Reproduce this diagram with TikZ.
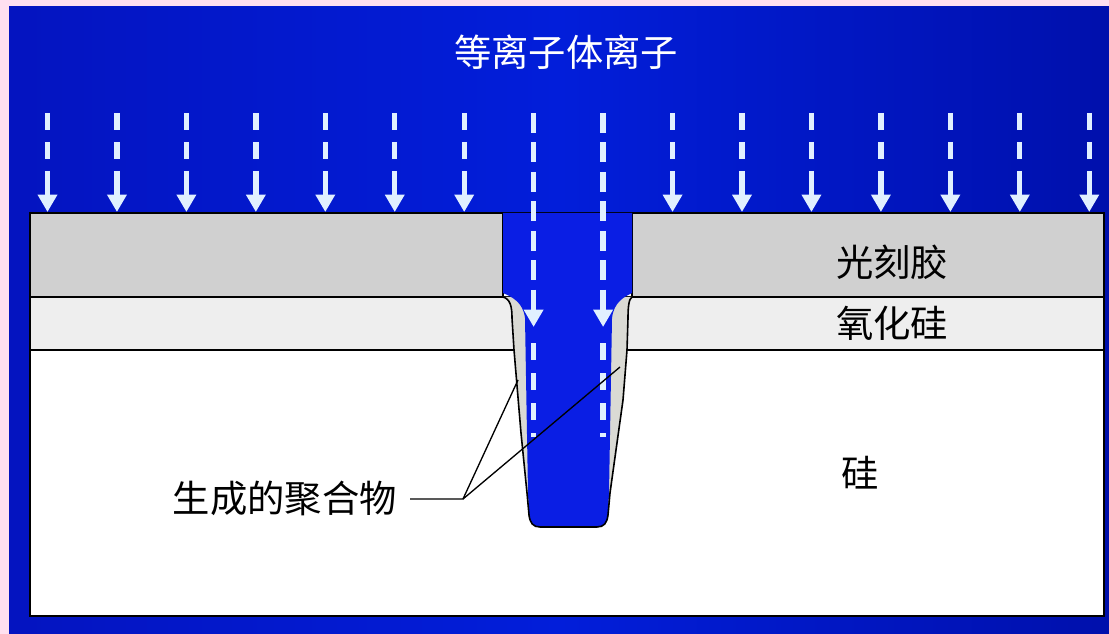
\documentclass[tikz,border=0pt]{standalone}
\usepackage{fontspec}
\newfontfamily\cjk{Noto Sans CJK SC}
\usetikzlibrary{arrows.meta}
\definecolor{pinkbg}{RGB}{255,224,240}
\definecolor{bgleft}{RGB}{4,20,192}
\definecolor{bgmid}{RGB}{2,30,218}
\definecolor{bgright}{RGB}{0,16,172}
\definecolor{plasma}{RGB}{10,30,228}
\definecolor{resist}{RGB}{208,208,208}
\definecolor{oxide}{RGB}{238,238,238}
\definecolor{polymer}{RGB}{218,218,212}
\definecolor{ion}{RGB}{225,240,255}

\begin{document}
\begin{tikzpicture}[x=0.75pt,y=-0.75pt,
  layer/.style={draw=black,line width=1.2pt},
  iondash/.style={draw=ion,line width=4pt,dash pattern=on 12.75pt off 9pt},
  trenchdash/.style={draw=ion,line width=4pt,dash pattern=on 15pt off 7.1pt},
  lowdash/.style={draw=ion,line width=4pt,dash pattern=on 12.75pt off 9.75pt},
  iontip/.style={draw=ion,line width=4pt,-{Triangle[width=14pt,length=13pt]}},
  label/.style={font=\cjk\fontsize{28}{30}\selectfont,inner sep=0pt},
]
\useasboundingbox (0,0) rectangle (1109,634);

% backdrop
\fill[pinkbg] (0,0) rectangle (1109,634);
\shade[left color=bgleft,right color=bgright,middle color=bgmid] (9,7) rectangle (1109,634);

% silicon substrate
\filldraw[layer,fill=white] (30,213) rectangle (1104,616);
% oxide layer (trench edge covered by the cavity below)
\filldraw[layer,fill=oxide] (30,297) rectangle (520,350);
\filldraw[layer,fill=oxide] (615,297) rectangle (1104,350);
% photoresist
\filldraw[layer,fill=resist] (30,213) rectangle (503,297);
\filldraw[layer,fill=resist] (632,213) rectangle (1104,297);

% etched cavity lined with polymer
\fill[polymer] (503,297) .. controls (510,299) and (512,306) .. (512,318)
  -- (514,350) -- (521,433) -- (527,493) -- (529,515)
  .. controls (530,523) and (533,527) .. (540,527) -- (597,527)
  .. controls (604,527) and (607,523) .. (608,515)
  -- (610,493) -- (616,450) -- (623,400) -- (627,350) -- (628,318)
  .. controls (628,306) and (629,299) .. (632,297) -- cycle;

% plasma filling the opening
\fill[plasma] (503,213) -- (503,293) .. controls (512,297) and (523,302) .. (525,318)
  -- (528,493) -- (529,515)
  .. controls (530,523) and (533,527) .. (540,527) -- (597,527)
  .. controls (604,527) and (607,523) .. (608,515)
  -- (609,493) -- (612,318) .. controls (614,302) and (624,297) .. (632,293)
  -- (632,213) -- cycle;

% cavity wall outline
\draw[line width=1.2pt] (503,297) .. controls (510,299) and (512,306) .. (512,318)
  -- (514,350) -- (521,433) -- (527,493) -- (529,515)
  .. controls (530,523) and (533,527) .. (540,527) -- (597,527)
  .. controls (604,527) and (607,523) .. (608,515)
  -- (610,493) -- (616,450) -- (623,400) -- (627,350) -- (628,318)
  .. controls (628,306) and (629,299) .. (632,297);

% incoming ions
\foreach \i in {0,...,15}{
  \pgfmathsetmacro\xx{47.5+69.45*\i}
  \ifnum\i=7\relax\else\ifnum\i=8\relax\else
    \draw[iondash] (\xx,113) -- (\xx,160);
    \draw[iontip] (\xx,171) -- (\xx,212);
  \fi\fi
}
\foreach \xx in {533.6,603.1}{
  \draw[trenchdash] (\xx,113) -- (\xx,300);
  \draw[iontip] (\xx,290) -- (\xx,327);
  \draw[lowdash] (\xx,343) -- (\xx,437);
}

% labels
\node[label,text=white] (title) at (566,52) {等离子体离子};
\node[label] (pr) at (892,262) {光刻胶};
\node[label] (ox) at (892,323) {氧化硅};
\node[label] (si) at (860,473) {硅};
\node[label,anchor=east] (poly) at (397,498) {生成的聚合物};

% leader lines to the polymer on both walls
\coordinate (lstart) at (410,499);
\coordinate (fork) at (463,499);
\coordinate (leftwall) at (518,380);
\coordinate (rightwall) at (620,367);
\draw[line width=1pt] (lstart) -- (fork) -- (leftwall);
\draw[line width=1pt] (fork) -- (rightwall);
\end{tikzpicture}
\end{document}
